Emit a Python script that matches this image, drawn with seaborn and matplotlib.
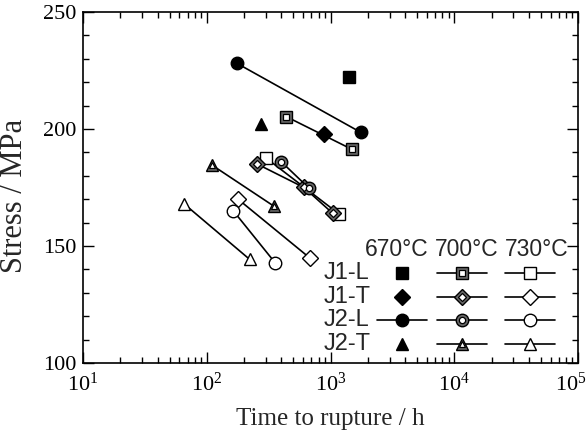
import numpy as np
import pandas as pd
import matplotlib
matplotlib.use('Agg')
import matplotlib.pyplot as plt
import matplotlib.transforms as mtransforms
import seaborn as sns
from matplotlib.ticker import FixedLocator, LogLocator, NullFormatter

#################### DATA ####################
alloys = ['J1-L', 'J1-T', 'J2-L', 'J2-T']
temps = ['670°C', '700°C', '730°C']

# time to rupture (h) and stress (MPa)
j1l_670_t = [1400]
j1l_670_s = [222.4]
j1l_700_t = [438, 1490]
j1l_700_s = [205.3, 191.3]
j1l_730_t = [303, 1170]
j1l_730_s = [187.5, 163.7]

j1t_670_t = [883]
j1t_670_s = [197.7]
j1t_700_t = [256, 610, 1040]
j1t_700_s = [185.0, 175.0, 164.0]
j1t_730_t = [179, 687]
j1t_730_s = [170.0, 144.7]

j2l_670_t = [176, 1750]
j2l_670_s = [228.0, 198.6]
j2l_700_t = [400, 670]
j2l_700_s = [186.0, 174.7]
j2l_730_t = [164, 356]
j2l_730_s = [165.0, 142.9]

j2t_670_t = [272]
j2t_670_s = [202.0]
j2t_700_t = [110, 349]
j2t_700_s = [184.6, 167.0]
j2t_730_t = [65.6, 222]
j2t_730_s = [168.0, 144.3]

series = {
    ('J1-L', '670°C'): (j1l_670_t, j1l_670_s),
    ('J1-L', '700°C'): (j1l_700_t, j1l_700_s),
    ('J1-L', '730°C'): (j1l_730_t, j1l_730_s),
    ('J1-T', '670°C'): (j1t_670_t, j1t_670_s),
    ('J1-T', '700°C'): (j1t_700_t, j1t_700_s),
    ('J1-T', '730°C'): (j1t_730_t, j1t_730_s),
    ('J2-L', '670°C'): (j2l_670_t, j2l_670_s),
    ('J2-L', '700°C'): (j2l_700_t, j2l_700_s),
    ('J2-L', '730°C'): (j2l_730_t, j2l_730_s),
    ('J2-T', '670°C'): (j2t_670_t, j2t_670_s),
    ('J2-T', '700°C'): (j2t_700_t, j2t_700_s),
    ('J2-T', '730°C'): (j2t_730_t, j2t_730_s),
}

rows = []
for (alloy, temp), (t, s) in series.items():
    for ti, si in zip(t, s):
        rows.append({'alloy': alloy, 'temp': temp, 'time': ti, 'stress': si})
df = pd.DataFrame(rows)

#################### STYLE ####################
sns.set_theme(style='ticks')
plt.rcParams['font.family'] = ['Liberation Serif', 'DejaVu Serif']
plt.rcParams['mathtext.fontset'] = 'custom'
plt.rcParams['mathtext.rm'] = 'Liberation Serif'
plt.rcParams['mathtext.it'] = 'Liberation Serif:italic'

markers = {'J1-L': 's', 'J1-T': 'D', 'J2-L': 'o', 'J2-T': '^'}
msizes = {'J1-L': 8, 'J1-T': 8, 'J2-L': 9, 'J2-T': 9}


def style_for(alloy, temp):
    ms = msizes[alloy]
    if temp == '670°C':
        return dict(mfc='black', mec='black', ms=ms)
    if temp == '700°C':
        return dict(mfc='#666666', mec='black', ms=ms)
    return dict(mfc='white', mec='black', ms=ms)


def draw(ax, x, y, alloy, temp, with_line, **kw):
    st = style_for(alloy, temp)
    ax.plot(x, y, color='black', lw=1.2, ls='-' if with_line else 'none',
            marker=markers[alloy], markersize=st['ms'], markerfacecolor=st['mfc'],
            markeredgecolor=st['mec'], markeredgewidth=1.0, **kw)
    if temp == '700°C':
        ax.plot(x, y, ls='none', marker=markers[alloy], markersize=st['ms'] * 0.5,
                markerfacecolor='white', markeredgecolor='black',
                markeredgewidth=0.9, **kw)


#################### PLOT ####################
fig, ax = plt.subplots(figsize=(5.87, 4.34), dpi=100)
fig.subplots_adjust(left=0.1414, right=0.9847, bottom=0.1636, top=0.9724)

for (alloy, temp), sub in df.groupby(['alloy', 'temp']):
    st = style_for(alloy, temp)
    sns.lineplot(data=sub, x='time', y='stress', ax=ax, estimator=None, sort=False,
                 color='black', lw=1.2, marker=markers[alloy], markersize=st['ms'],
                 markerfacecolor=st['mfc'], markeredgecolor=st['mec'],
                 markeredgewidth=1.0, zorder=3)
    if temp == '700°C':
        ax.plot(sub['time'], sub['stress'], ls='none', marker=markers[alloy],
                markersize=st['ms'] * 0.5, markerfacecolor='white',
                markeredgecolor='black', markeredgewidth=0.9, zorder=4)

ax.set_xscale('log')
ax.set_xlim(10, 1e5)
ax.set_ylim(100, 250)
ax.set_xticks([10, 100, 1000, 10000, 100000])
ax.set_xticklabels(['$10^{1}$', '$10^{2}$', '$10^{3}$', '$10^{4}$', '$10^{5}$'])
ax.xaxis.set_minor_locator(LogLocator(base=10, subs=np.arange(2, 10)))
ax.xaxis.set_minor_formatter(NullFormatter())
ax.set_yticks([100, 150, 200, 250])
ax.yaxis.set_minor_locator(FixedLocator(np.arange(100, 251, 10)))

ax.tick_params(which='both', direction='in', top=True, right=True, colors='black',
               labelsize=16, width=1.0)
ax.tick_params(which='major', length=8)
ax.tick_params(which='minor', length=4.5)
ax.tick_params(axis='x', which='major', pad=7)
ax.tick_params(axis='y', which='major', pad=5)
for sp in ax.spines.values():
    sp.set_linewidth(1.2)
    sp.set_color('black')

# last x label sits at the figure edge, nudge it left a little
last = ax.get_xticklabels()[-1]
last.set_transform(last.get_transform() +
                   mtransforms.ScaledTranslation(-0.07, 0, fig.dpi_scale_trans))

ax.set_xlabel('Time to rupture / h', fontsize=18)
ax.set_ylabel('Stress / MPa', fontsize=22)
ax.xaxis.set_label_coords(0.5, -0.128)
ax.yaxis.set_label_coords(-0.11, 0.476)

#################### LEGEND TABLE ####################
sans = ['Liberation Sans', 'DejaVu Sans']
head_x = [0.634, 0.776, 0.917]
col_x = [0.644, 0.766, 0.903]
row_y = [0.256, 0.188, 0.122, 0.054]
half = 0.05
for c, temp in enumerate(temps):
    ax.text(head_x[c], 0.322, temp, transform=ax.transAxes, ha='center',
            va='center', fontsize=16.5, family=sans)
for r, alloy in enumerate(alloys):
    ax.text(0.487, row_y[r], alloy, transform=ax.transAxes, ha='left', va='center',
            fontsize=17, family=sans)
    for c, temp in enumerate(temps):
        with_line = len(series[(alloy, temp)][0]) > 1
        draw(ax, [col_x[c] - half, col_x[c], col_x[c] + half] if with_line else [col_x[c]],
             [row_y[r]] * (3 if with_line else 1), alloy, temp, with_line,
             transform=ax.transAxes, clip_on=False, zorder=5, markevery=[1] if with_line else None)

fig.savefig('out.png', dpi=100)
